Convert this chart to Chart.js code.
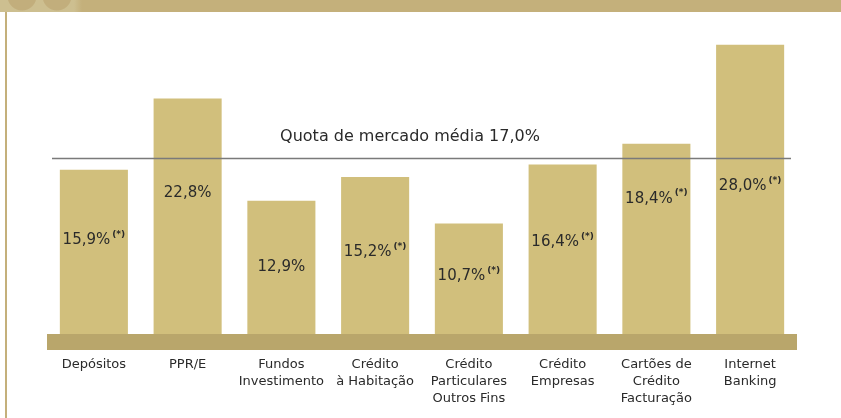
<!DOCTYPE html>
<html>
<head>
<meta charset="utf-8">
<script src="https://cdn.jsdelivr.net/npm/chart.js@4/dist/chart.umd.min.js"></script>
<style>
  html, body { margin: 0; padding: 0; background: #fff; }
  #wrap { position: relative; width: 841px; height: 418px; overflow: hidden; }
  #topband {
    position: absolute; left: 0; top: 0; width: 841px; height: 12px;
    background:
      radial-gradient(circle at 22px -4px, #c2ae7c 0, #c2ae7c 14px, transparent 15px),
      radial-gradient(circle at 57px -4px, #c2ae7c 0, #c2ae7c 14px, transparent 15px),
      linear-gradient(to right, #cdbf90 0, #cdbf90 74px, #c4b07b 82px, #c4b07b 100%);
  }
  #leftline { position: absolute; left: 5px; top: 12px; width: 2px; height: 406px; background: #c4b07b; }
  canvas { position: absolute; left: 0; top: 0; }
</style>
</head>
<body>
<div id="wrap">
  <div id="topband"></div>
  <div id="leftline"></div>
  <canvas id="chartQuota" width="841" height="418"></canvas>
</div>
<script>
const categorias = [
  ['Depósitos'],
  ['PPR/E'],
  ['Fundos', 'Investimento'],
  ['Crédito', 'à Habitação'],
  ['Crédito', 'Particulares', 'Outros Fins'],
  ['Crédito', 'Empresas'],
  ['Cartões de', 'Crédito', 'Facturação'],
  ['Internet', 'Banking']
];
const quotas = [15.9, 22.8, 12.9, 15.2, 10.7, 16.4, 18.4, 28.0];
const asterisco = [true, false, false, true, true, true, true, true];
const quotaMedia = 17.0;
const tituloMedia = 'Quota de mercado média 17,0%';

// posição vertical do rótulo dentro da barra (fração a partir do topo)
const posRotulo = [0.43, 0.40, 0.50, 0.48, 0.48, 0.46, 0.29, 0.49];

function _fmt(v) {
  return v.toFixed(1).replace('.', ',') + '%';
}

const extras = {
  id: 'extras',
  beforeDatasetsDraw(chart) {
    const { ctx, chartArea } = chart;
    // faixa de base
    ctx.save();
    ctx.fillStyle = '#b9a66b';
    ctx.fillRect(chartArea.left, chartArea.bottom, chartArea.right - chartArea.left, 16);
    ctx.restore();
  },
  afterDatasetsDraw(chart) {
    const { ctx, chartArea, scales } = chart;
    const meta = chart.getDatasetMeta(0);
    ctx.save();
    ctx.textBaseline = 'middle';
    meta.data.forEach((bar, i) => {
      const txt = _fmt(quotas[i]);
      ctx.font = '15px "DejaVu Sans"';
      const w1 = ctx.measureText(txt).width;
      let w2 = 0;
      if (asterisco[i]) {
        ctx.font = 'bold 9px "DejaVu Sans"';
        w2 = ctx.measureText('(*)').width + 2;
      }
      const x0 = bar.x - (w1 + w2) / 2;
      const y = bar.y + (bar.base - bar.y) * posRotulo[i];
      ctx.fillStyle = '#2a2a2a';
      ctx.textAlign = 'left';
      ctx.font = '15px "DejaVu Sans"';
      ctx.fillText(txt, x0, y);
      if (asterisco[i]) {
        ctx.font = 'bold 9px "DejaVu Sans"';
        ctx.fillText('(*)', x0 + w1 + 2, y - 6);
      }
    });

    // linha da quota média
    const yMed = Math.round(scales.y.getPixelForValue(quotaMedia)) + 0.5;
    ctx.strokeStyle = '#7a7a7a';
    ctx.lineWidth = 1.5;
    ctx.beginPath();
    ctx.moveTo(chartArea.left + 5, yMed);
    ctx.lineTo(chartArea.right - 6, yMed);
    ctx.stroke();
    ctx.fillStyle = '#2a2a2a';
    ctx.font = '16px "DejaVu Sans"';
    ctx.textAlign = 'center';
    ctx.fillText(tituloMedia, (chartArea.left + chartArea.right) / 2 - 12, yMed - 22);
    ctx.restore();
  }
};

new Chart(document.getElementById('chartQuota').getContext('2d'), {
  type: 'bar',
  data: {
    labels: categorias,
    datasets: [{
      label: 'Quota de mercado',
      data: quotas,
      backgroundColor: '#d1bf7c',
      borderWidth: 0,
      barPercentage: 0.726,
      categoryPercentage: 1
    }]
  },
  options: {
    responsive: false,
    animation: false,
    events: [],
    layout: { padding: { left: 47, right: 44, top: 24, bottom: 0 } },
    plugins: { legend: { display: false }, tooltip: { enabled: false } },
    scales: {
      x: {
        grid: { display: false, drawTicks: false },
        border: { display: false },
        ticks: {
          padding: 22,
          color: '#2a2a2a',
          maxRotation: 0,
          autoSkip: false,
          font: { family: '"DejaVu Sans"', size: 13, lineHeight: 1.3 }
        },
        afterFit(scale) { scale.height = 84; }
      },
      y: {
        display: false,
        min: 0,
        max: 30
      }
    }
  },
  plugins: [extras]
});
</script>
</body>
</html>
